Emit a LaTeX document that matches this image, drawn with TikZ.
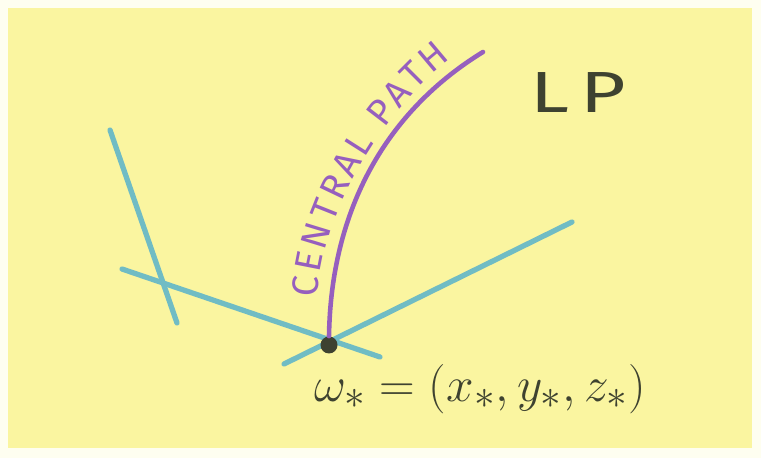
\documentclass[tikz,border=0pt]{standalone}
\usepackage{fontspec}
\setsansfont{Fira Sans}
\usetikzlibrary{decorations.text}
\definecolor{margin}{RGB}{254,254,240}
\definecolor{paper}{RGB}{250,245,160}
\definecolor{facet}{RGB}{112,188,196}
\definecolor{pathcol}{RGB}{150,95,190}
\definecolor{ink}{RGB}{62,66,48}

\begin{document}
\begin{tikzpicture}[
    facetline/.style={draw=facet, line width=3pt, line cap=round},
    central/.style={draw=pathcol, line width=2.6pt, line cap=round},
    vertex/.style={circle, fill=ink, inner sep=0pt, minimum size=0.34cm},
    lbl/.style={text=ink, scale=1.13, transform shape, font=\fontsize{28}{32}\selectfont},
    title/.style={text=ink, xscale=1.35, transform shape,
        font=\sffamily\fontsize{33}{36}\selectfont\addfontfeature{LetterSpace=14}},
]

% PAPER
\fill[margin] (0,0) rectangle (15.22,9.16);
\fill[paper] (0.16,0.20) rectangle (15.04,9.0);
\useasboundingbox (0,0) rectangle (15.22,9.16);

% CONSTRAINT LINES
\coordinate (f1a) at (2.20,6.56);
\coordinate (f1b) at (3.54,2.70);
\coordinate (f2a) at (2.44,3.78);
\coordinate (f2b) at (7.60,2.02);
\coordinate (f3a) at (5.68,1.88);
\coordinate (f3b) at (11.44,4.72);

\draw[facetline] (f1a) -- (f1b);
\draw[facetline] (f2a) -- (f2b);
\draw[facetline] (f3a) -- (f3b);

% OPTIMUM
\node[vertex] (wstar) at (6.58,2.26) {};
\node[lbl] (wlabel) at (9.6,1.38) {$\omega_{*} = (x_{*}, y_{*}, z_{*})$};

% CENTRAL PATH
\coordinate (cpend) at (9.66,8.12);
\draw[central] (wstar.north) .. controls (6.62,5.0) and (7.75,6.95) .. (cpend);
\path[decorate, decoration={text along path, text align={fit to path},
    text color=pathcol, text={|\sffamily\fontsize{21}{24}\selectfont|CENTRAL PATH}}]
    (6.36,3.20) .. controls (6.38,4.8) and (7.66,6.95) .. (9.02,7.98);

% LP
\node[title] (lp) at (11.56,7.30) {LP};

\end{tikzpicture}
\end{document}
